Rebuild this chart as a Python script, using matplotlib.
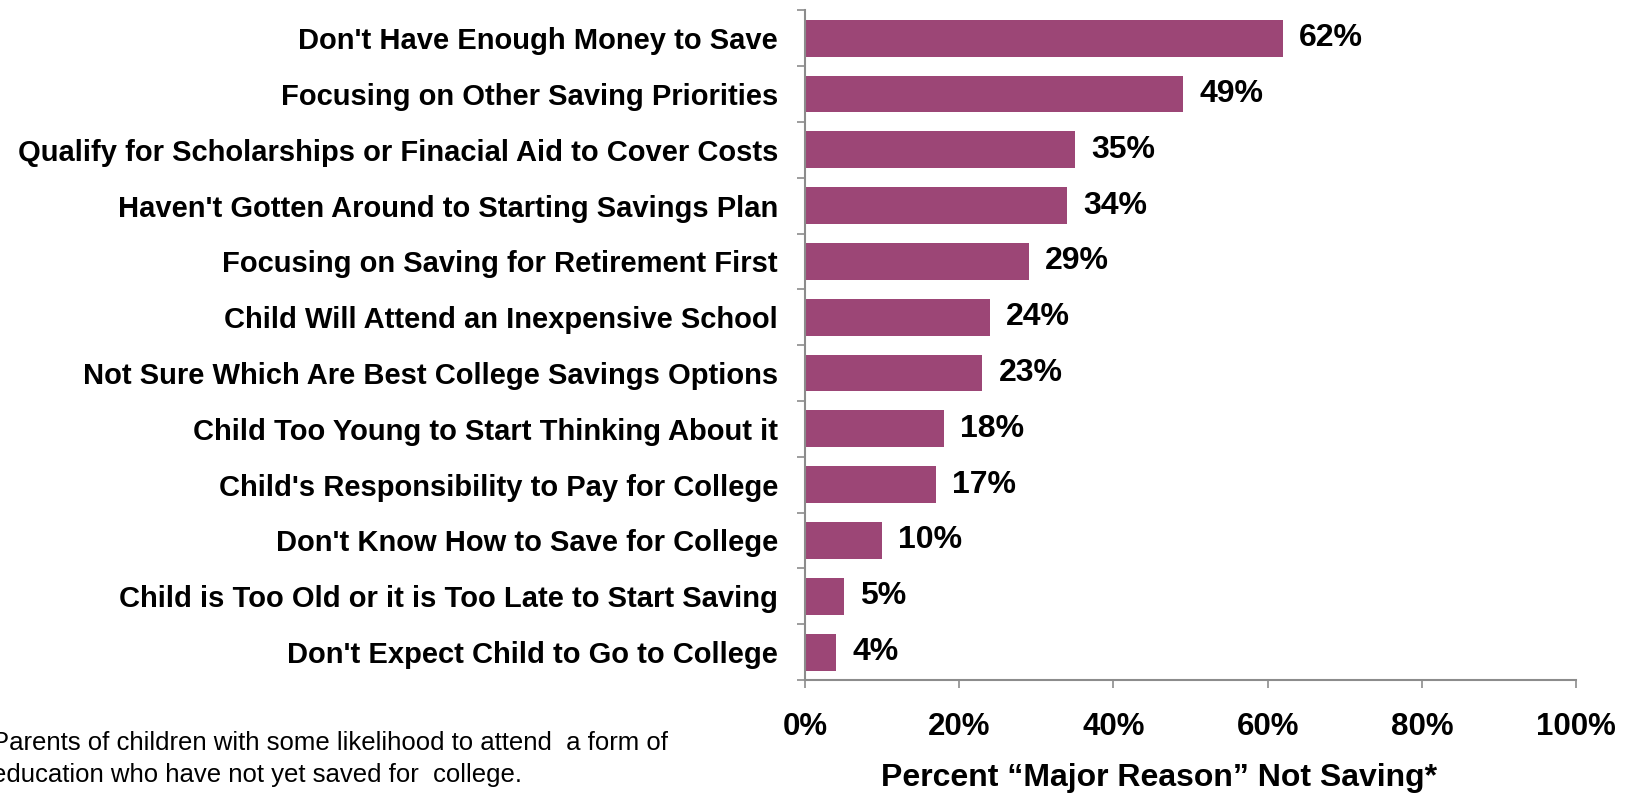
import numpy as np
import matplotlib.pyplot as plt
from matplotlib.ticker import FixedLocator, PercentFormatter

plt.rcParams["font.family"] = ["Liberation Sans", "DejaVu Sans"]

reasons = [
    "Don't Have Enough Money to Save",
    "Focusing on Other Saving Priorities",
    "Qualify for Scholarships or Finacial Aid to Cover Costs",
    "Haven't Gotten Around to Starting Savings Plan",
    "Focusing on Saving for Retirement First",
    "Child Will Attend an Inexpensive School",
    "Not Sure Which Are Best College Savings Options",
    "Child Too Young to Start Thinking About it",
    "Child's Responsibility to Pay for College",
    "Don't Know How to Save for College",
    "Child is Too Old or it is Too Late to Start Saving",
    "Don't Expect Child to Go to College",
]
pct = [62, 49, 35, 34, 29, 24, 23, 18, 17, 10, 5, 4]
xticks = [0, 20, 40, 60, 80, 100]

bar_color = "#9C4676"
axis_color = "#8C8C8C"

fig = plt.figure(figsize=(16.37, 7.93), dpi=100)
ax = fig.add_axes([0.4918, 0.1425, 0.471, 0.8445])

y = np.arange(len(reasons))
ax.barh(y, pct, height=0.66, color=bar_color)
ax.set_ylim(len(reasons) - 0.5, -0.5)
ax.set_xlim(0, 100)

for yi, v in zip(y, pct):
    ax.text(v + 2.1, yi, f"{v}%", va="center", ha="left",
            fontsize=23, fontweight="bold")

# category labels, tick marks sit between bars
ax.set_yticks(y)
ax.set_yticklabels(reasons, fontsize=21, fontweight="bold")
ax.tick_params(axis="y", which="major", length=0, pad=19.5)
ax.yaxis.set_minor_locator(FixedLocator(np.arange(-0.5, len(reasons), 1)))
ax.tick_params(axis="y", which="minor", length=6, color=axis_color, width=1.2)

ax.set_xticks(xticks)
ax.xaxis.set_major_formatter(PercentFormatter(decimals=0))
ax.tick_params(axis="x", length=6, color=axis_color, width=1.2, pad=17,
               labelsize=22.5)
for lbl in ax.get_xticklabels():
    lbl.set_fontweight("bold")
ax.set_xlabel("Percent \u201cMajor Reason\u201d Not Saving*", fontsize=23,
              fontweight="bold", labelpad=15)
ax.xaxis.label.set_x(0.459)

for side in ["top", "right"]:
    ax.spines[side].set_visible(False)
for side in ["left", "bottom"]:
    ax.spines[side].set_color(axis_color)
    ax.spines[side].set_linewidth(1.5)

fig.text(-0.005, 0.043,
         "Parents of children with some likelihood to attend  a form of\n"
         "education who have not yet saved for  college.",
         fontsize=18.5, ha="left", va="center", linespacing=1.4)

fig.savefig("out.png", dpi=100)
